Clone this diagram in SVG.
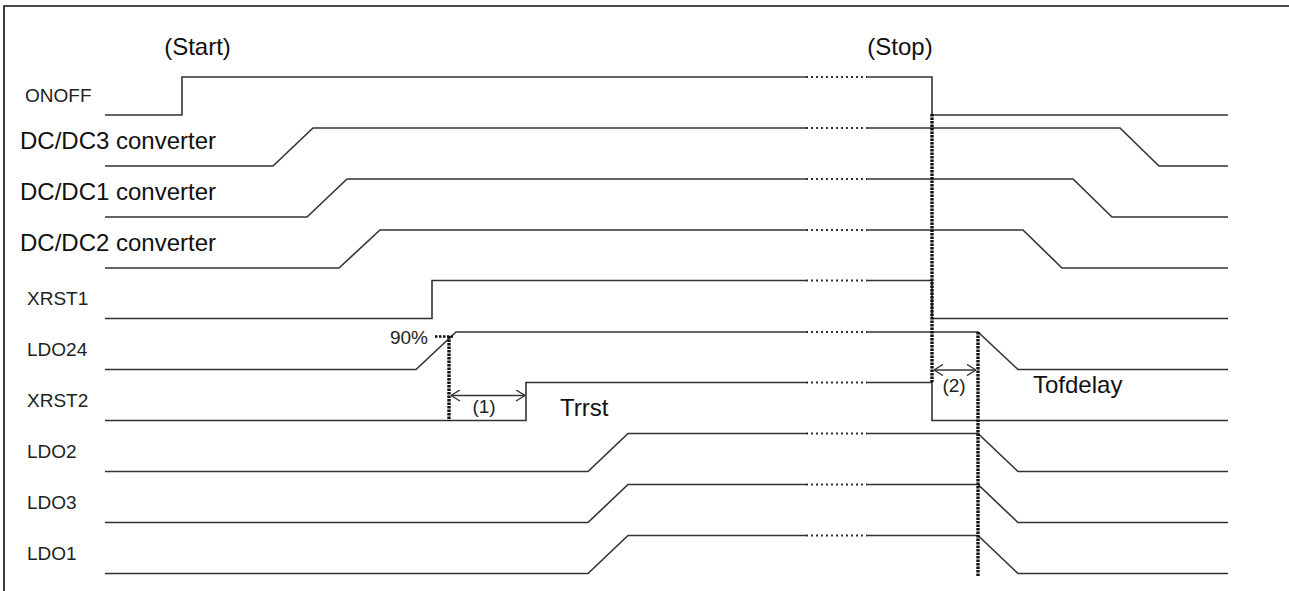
<svg xmlns="http://www.w3.org/2000/svg" width="1289" height="591" viewBox="0 0 1289 591">
<style>
.sig{fill:none;stroke:#333;stroke-width:1.6;stroke-linejoin:miter}
.dot{fill:none;stroke:#333;stroke-width:2;stroke-dasharray:2 3}
.vdot{fill:none;stroke:#111;stroke-width:3.4;stroke-dasharray:2.5 1}
.hdot{fill:none;stroke:#111;stroke-width:2.4;stroke-dasharray:2.5 1.5}
.ann{fill:none;stroke:#333;stroke-width:1.4}
.sm{font-family:"Liberation Sans",Arial,sans-serif;font-size:19px;fill:#222}
.lg{font-family:"Liberation Sans",Arial,sans-serif;font-size:24px;fill:#111}
</style>
<defs>
<marker id="vhead" viewBox="0 0 10 12" refX="10" refY="6" markerWidth="10" markerHeight="12" markerUnits="userSpaceOnUse" orient="auto-start-reverse">
<path d="M1,0.5 L10,6 L1,11.5" fill="none" stroke="#333" stroke-width="1.4"/>
</marker>
</defs>
<rect width="1289" height="591" fill="#fff"/>
<path d="M4,591 V6 H1289" fill="none" stroke="#111" stroke-width="1.6"/>
<text class="lg" x="197.5" y="55" text-anchor="middle">(Start)</text>
<text class="lg" x="900" y="55" text-anchor="middle">(Stop)</text>

<g id="sig-onoff">
<text class="sm" x="25" y="102">ONOFF</text>
<path class="sig" d="M105,115 H182 V77 H806 M867,77 H932 V115 H1228"/>
<path class="dot" d="M806,77 H867"/>
</g>
<g id="sig-dcdc3">
<text class="lg" x="20" y="149">DC/DC3 converter</text>
<path class="sig" d="M105,166 H273 L313,128 H806 M867,128 H1120 L1159,166 H1228"/>
<path class="dot" d="M806,128 H867"/>
</g>
<g id="sig-dcdc1">
<text class="lg" x="20" y="200">DC/DC1 converter</text>
<path class="sig" d="M105,217 H307 L347,179 H806 M867,179 H1073 L1112,217 H1228"/>
<path class="dot" d="M806,179 H867"/>
</g>
<g id="sig-dcdc2">
<text class="lg" x="20" y="251">DC/DC2 converter</text>
<path class="sig" d="M105,268 H339 L380,230 H806 M867,230 H1023 L1062,268 H1228"/>
<path class="dot" d="M806,230 H867"/>
</g>
<g id="sig-xrst1">
<text class="sm" x="27" y="305">XRST1</text>
<path class="sig" d="M105,318.5 H432 V280.5 H806 M867,280.5 H932 V318.5 H1228"/>
<path class="dot" d="M806,280.5 H867"/>
</g>
<g id="sig-ldo24">
<text class="sm" x="27" y="356">LDO24</text>
<path class="sig" d="M105,369.5 H416 L456,332 H806 M867,332 H978 L1018,369.5 H1228"/>
<path class="dot" d="M806,332 H867"/>
</g>
<g id="sig-xrst2">
<text class="sm" x="27" y="407">XRST2</text>
<path class="sig" d="M105,420.5 H526 V382.5 H806 M867,382.5 H932 V420.5 H1228"/>
<path class="dot" d="M806,382.5 H867"/>
</g>
<g id="sig-ldo2">
<text class="sm" x="27" y="458">LDO2</text>
<path class="sig" d="M105,471.5 H588 L628,433.5 H806 M867,433.5 H978 L1018,471.5 H1228"/>
<path class="dot" d="M806,433.5 H867"/>
</g>
<g id="sig-ldo3">
<text class="sm" x="27" y="509">LDO3</text>
<path class="sig" d="M105,522.5 H588 L628,484.5 H806 M867,484.5 H978 L1018,522.5 H1228"/>
<path class="dot" d="M806,484.5 H867"/>
</g>
<g id="sig-ldo1">
<text class="sm" x="27" y="560">LDO1</text>
<path class="sig" d="M105,573.5 H588 L628,535.5 H806 M867,535.5 H978 L1018,573.5 H1228"/>
<path class="dot" d="M806,535.5 H867"/>
</g>

<g id="connectors">
<text class="sm" x="428" y="344" text-anchor="end">90%</text>
<path class="hdot" d="M435,336.5 H453"/>
<path class="vdot" d="M449,336 V421"/>
<path class="ann" d="M451,395.5 H525" marker-start="url(#vhead)" marker-end="url(#vhead)"/>
<text class="sm" x="484" y="413" text-anchor="middle">(1)</text>
<text class="lg" x="560" y="416">Trrst</text>
<path class="vdot" d="M932,114 V382"/>
<path class="vdot" d="M978,332 V577"/>
<path class="ann" d="M934,370 H976" marker-start="url(#vhead)" marker-end="url(#vhead)"/>
<text class="sm" x="954" y="392" text-anchor="middle">(2)</text>
<text class="lg" x="1033" y="393">Tofdelay</text>
</g>
</svg>
